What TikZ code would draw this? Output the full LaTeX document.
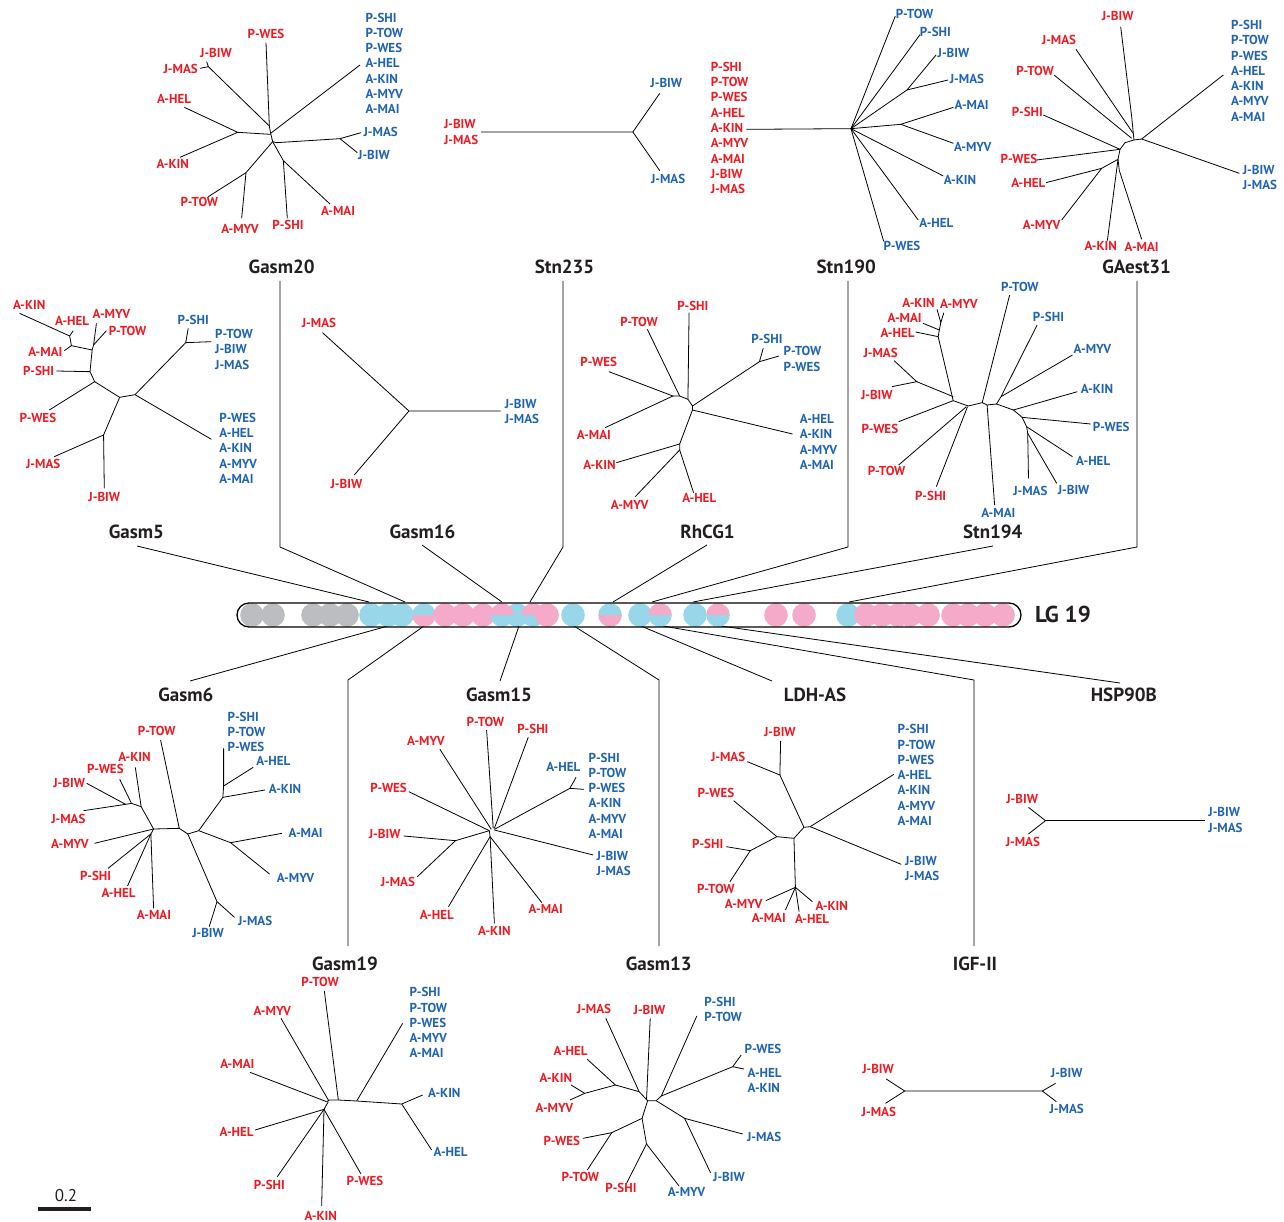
\documentclass[tikz,border=0pt]{standalone}
\usepackage{fontspec}
\setmainfont{PT Sans}
\definecolor{lred}{RGB}{237,28,36}
\definecolor{lblue}{RGB}{33,100,178}
\definecolor{tblack}{RGB}{35,31,32}
\definecolor{cpink}{RGB}{244,170,200}
\definecolor{ccyan}{RGB}{152,214,234}
\definecolor{cgray}{RGB}{188,189,192}
\newcommand\Cfull[2]{\fill[#2] (#1,615) circle (11.8pt);}
\newcommand\Chalf[3]{\fill[#2] (#1,615) ++(11.8pt,0) arc[start angle=0,end angle=180,radius=11.8pt] -- cycle; \fill[#3] (#1,615) ++(-11.8pt,0) arc[start angle=180,end angle=360,radius=11.8pt] -- cycle;}
\begin{document}
\begin{tikzpicture}[x=1pt,y=-1pt,
  lab/.style={font=\bfseries\fontsize{13}{15.3}\selectfont,inner sep=0pt,align=left},
  rl/.style={lab,text=lred},
  bl/.style={lab,text=lblue},
  ttl/.style={text=tblack,font=\bfseries\fontsize{19}{21}\selectfont,inner sep=0pt},
  br/.style={line width=0.8pt,black}]
\useasboundingbox (0,0) rectangle (1284,1222);

% ---------- Gasm20 ----------
\begin{scope}[shift={(140,0)},xscale=0.333333,yscale=0.333333]
\node[rl] (a1) at (378,102) {P-WES};
\node[rl] (a2) at (228,158) {J-BIW};
\node[rl] (a3) at (122,207) {J-MAS};
\node[rl] (a4) at (102,297) {A-HEL};
\node[rl] (a5) at (98,493) {A-KIN};
\node[rl] (a6) at (178,607) {P-TOW};
\node[rl] (a7) at (300,688) {A-MYV};
\node[rl] (a8) at (444,674) {P-SHI};
\node[rl] (a9) at (594,632) {A-MAI};
\node[bl,anchor=west] (a10) at (676,190) {P-SHI\\P-TOW\\P-WES\\A-HEL\\A-KIN\\A-MYV\\A-MAI};
\node[bl] (a11) at (722,396) {J-MAS};
\node[bl] (a12) at (702,466) {J-BIW};
\node[ttl] (tA) at (425,800) {Gasm20};
\draw[br] (378,128)--(388,378)--(392,400)--(398,425)--(410,428)--(600,416)--(663,398);
\draw[br] (600,416)--(652,458);
\draw[br] (200,185)--(205,200)--(180,205);
\draw[br] (205,200)--(388,378);
\draw[br] (660,195)--(392,400);
\draw[br] (133,322)--(293,397)--(120,472);
\draw[br] (293,397)--(392,403);
\draw[br] (398,425)--(318,518)--(205,590);
\draw[br] (318,518)--(305,655);
\draw[br] (398,425)--(430,482)--(442,655);
\draw[br] (430,482)--(570,612);
\end{scope}

% ---------- Stn235 & Stn190 ----------
\begin{scope}[shift={(430,0)},xscale=0.36352,yscale=0.333333]
\node[rl,anchor=west] (b1) at (38,396) {J-BIW\\J-MAS};
\node[bl] (b2) at (650,250) {J-BIW};
\node[bl] (b3) at (655,538) {J-MAS};
\node[ttl] (tB) at (370,800) {Stn235};
\draw[br] (140,396)--(558,396)--(632,280);
\draw[br] (558,396)--(632,512);
\node[rl,anchor=west] (c1) at (772,384) {P-SHI\\P-TOW\\P-WES\\A-HEL\\A-KIN\\A-MYV\\A-MAI\\J-BIW\\J-MAS};
\node[bl] (c2) at (1333,42) {P-TOW};
\node[bl] (c3) at (1390,97) {P-SHI};
\node[bl] (c4) at (1440,158) {J-BIW};
\node[bl] (c5) at (1477,238) {J-MAS};
\node[bl] (c6) at (1490,315) {A-MAI};
\node[bl] (c7) at (1493,442) {A-MYV};
\node[bl] (c8) at (1458,541) {A-KIN};
\node[bl] (c9) at (1393,669) {A-HEL};
\node[bl] (c10) at (1298,738) {P-WES};
\node[ttl] (tC) at (1145,800) {Stn190};
\draw[br] (870,388)--(1158,386)--(1280,48);
\draw[br] (1158,386)--(1348,104);
\draw[br] (1158,386)--(1312,270)--(1392,165);
\draw[br] (1312,270)--(1425,240);
\draw[br] (1158,386)--(1295,373)--(1440,322);
\draw[br] (1295,373)--(1440,430);
\draw[br] (1158,386)--(1412,528);
\draw[br] (1158,386)--(1343,660);
\draw[br] (1158,386)--(1248,724);
\end{scope}

% ---------- GAest31 ----------
\begin{scope}[shift={(990,0)},xscale=0.333333,yscale=0.333333]
\node[rl] (d1) at (383,47) {J-BIW};
\node[rl] (d2) at (207,120) {J-MAS};
\node[rl] (d3) at (135,212) {P-TOW};
\node[rl] (d4) at (112,335) {P-SHI};
\node[rl] (d5) at (87,477) {P-WES};
\node[rl] (d6) at (115,550) {A-HEL};
\node[rl] (d7) at (155,675) {A-MYV};
\node[rl] (d8) at (332,738) {A-KIN};
\node[rl] (d9) at (455,742) {A-MAI};
\node[bl,anchor=west] (d10) at (723,212) {P-SHI\\P-TOW\\P-WES\\A-HEL\\A-KIN\\A-MYV\\A-MAI};
\node[bl,anchor=west] (d11) at (758,533) {J-BIW\\J-MAS};
\node[ttl] (tD) at (440,800) {GAest31};
\draw[br] (432,420)--(455,417)--(700,225);
\draw[br] (455,417)--(748,520);
\draw[br] (392,80)--(425,350)--(432,420);
\draw[br] (258,148)--(428,398);
\draw[br] (192,225)--(425,415);
\draw[br] (432,420)--(405,428)--(390,448)--(384,478)--(388,512)--(455,718);
\draw[br] (160,345)--(390,448);
\draw[br] (140,480)--(390,448);
\draw[br] (384,478)--(335,505)--(168,548);
\draw[br] (335,505)--(215,660);
\draw[br] (384,478)--(352,722);
\end{scope}

% ---------- Gasm5 & Gasm16 ----------
\begin{scope}[shift={(0,280)},xscale=0.357143,yscale=0.333333]
\node[rl] (e1) at (82,75) {A-KIN};
\node[rl] (e2) at (202,124) {A-HEL};
\node[rl] (e3) at (312,103) {A-MYV};
\node[rl] (e4) at (357,152) {P-TOW};
\node[rl] (e5) at (127,215) {A-MAI};
\node[rl] (e6) at (108,272) {P-SHI};
\node[rl] (e7) at (106,413) {P-WES};
\node[rl] (e8) at (121,553) {J-MAS};
\node[rl] (e9) at (292,650) {J-BIW};
\node[bl] (e10) at (541,120) {P-SHI};
\node[bl,anchor=west] (e11) at (602,208) {P-TOW\\J-BIW\\J-MAS};
\node[bl,anchor=west] (e12) at (614,505) {P-WES\\A-HEL\\A-KIN\\A-MYV\\A-MAI};
\node[ttl] (tE) at (382,757) {Gasm5};
\draw[br] (55,100)--(195,168)--(205,152);
\draw[br] (195,168)--(200,197)--(180,212);
\draw[br] (200,197)--(258,210);
\draw[br] (270,130)--(262,195)--(298,152);
\draw[br] (262,195)--(258,210)--(252,275)--(158,273);
\draw[br] (252,275)--(265,305)--(138,390);
\draw[br] (265,305)--(335,352)--(378,344)--(520,188)--(527,145);
\draw[br] (520,188)--(592,185);
\draw[br] (378,344)--(592,478);
\draw[br] (335,352)--(290,465)--(152,530);
\draw[br] (290,465)--(292,625);
\node[rl] (f1) at (893,130) {J-MAS};
\node[rl] (f2) at (970,612) {J-BIW};
\node[bl,anchor=west] (f3) at (1413,395) {J-BIW\\J-MAS};
\node[ttl] (tF) at (1183,757) {Gasm16};
\draw[br] (903,158)--(1145,393)--(1402,393);
\draw[br] (1145,393)--(992,585);
\end{scope}

% ---------- RhCG1 & Stn194 ----------
\begin{scope}[shift={(560,270)},xscale=0.376279,yscale=0.333333]
\node[rl] (g1) at (353,108) {P-SHI};
\node[rl] (g2) at (210,155) {P-TOW};
\node[rl] (g3) at (103,277) {P-WES};
\node[rl] (g4) at (90,495) {A-MAI};
\node[rl] (g5) at (105,585) {A-KIN};
\node[rl] (g6) at (185,705) {A-MYV};
\node[rl] (g7) at (370,685) {A-HEL};
\node[bl] (g8) at (550,208) {P-SHI};
\node[bl,anchor=west] (g9) at (594,267) {P-TOW\\P-WES};
\node[bl,anchor=west] (g10) at (637,516) {A-HEL\\A-KIN\\A-MYV\\A-MAI};
\node[ttl] (tG) at (392,785) {RhCG1};
\draw[br] (343,128)--(340,388);
\draw[br] (232,178)--(318,378);
\draw[br] (130,305)--(300,378)--(120,473);
\draw[br] (300,378)--(318,378)--(340,388)--(352,408)--(352,420)--(318,522)--(150,578);
\draw[br] (352,408)--(530,275)--(540,235);
\draw[br] (530,275)--(582,258);
\draw[br] (352,420)--(618,492);
\draw[br] (318,522)--(318,540)--(200,680);
\draw[br] (318,540)--(355,668);
\node[rl] (h1) at (953,100) {A-KIN};
\node[rl] (h2) at (1060,102) {A-MYV};
\node[rl] (h3) at (916,143) {A-MAI};
\node[rl] (h4) at (897,190) {A-HEL};
\node[rl] (h5) at (852,250) {J-MAS};
\node[rl] (h6) at (842,375) {J-BIW};
\node[rl] (h7) at (850,477) {P-WES};
\node[rl] (h8) at (868,603) {P-TOW};
\node[rl] (h9) at (985,678) {P-SHI};
\node[bl] (h10) at (1222,50) {P-TOW};
\node[bl] (h11) at (1298,140) {P-SHI};
\node[bl] (h12) at (1415,238) {A-MYV};
\node[bl] (h13) at (1427,358) {A-KIN};
\node[bl] (h14) at (1465,472) {P-WES};
\node[bl] (h15) at (1417,572) {A-HEL};
\node[bl] (h16) at (1365,660) {J-BIW};
\node[bl] (h17) at (1250,662) {J-MAS};
\node[bl] (h18) at (1165,730) {A-MAI};
\node[ttl] (tH) at (1150,785) {Stn194};
\draw[br] (1002,118)--(1012,158)--(1020,128);
\draw[br] (1012,158)--(1008,180)--(965,160);
\draw[br] (1008,180)--(1005,200)--(945,186);
\draw[br] (1005,200)--(1045,392)--(900,455);
\draw[br] (888,272)--(948,335)--(882,350);
\draw[br] (948,335)--(1045,380);
\draw[br] (1045,392)--(1085,408)--(1122,398)--(1135,405)--(1160,402)--(1205,420)--(1228,442)--(1240,470)--(1243,490)--(1245,625);
\draw[br] (900,585)--(1080,410);
\draw[br] (1000,650)--(1083,410);
\draw[br] (1135,405)--(1155,705);
\draw[br] (1122,398)--(1195,75);
\draw[br] (1160,402)--(1172,380)--(1268,165);
\draw[br] (1172,380)--(1362,255);
\draw[br] (1205,420)--(1375,365);
\draw[br] (1228,442)--(1410,462);
\draw[br] (1240,470)--(1362,560);
\draw[br] (1243,490)--(1320,640);
\end{scope}

% ---------- Gasm6 & Gasm15 ----------
\begin{scope}[shift={(40,680)},xscale=0.389029,yscale=0.333333]
\node[rl] (i1) at (300,153) {P-TOW};
\node[rl] (i2) at (243,230) {A-KIN};
\node[rl] (i3) at (168,268) {P-WES};
\node[rl] (i4) at (75,308) {J-BIW};
\node[rl] (i5) at (73,416) {J-MAS};
\node[rl] (i6) at (77,492) {A-MYV};
\node[rl] (i7) at (143,587) {P-SHI};
\node[rl] (i8) at (202,640) {A-HEL};
\node[rl] (i9) at (293,705) {A-MAI};
\node[bl,anchor=west] (i10) at (482,156) {P-SHI\\P-TOW\\P-WES};
\node[bl] (i11) at (600,243) {A-HEL};
\node[bl] (i12) at (630,328) {A-KIN};
\node[bl] (i13) at (683,460) {A-MAI};
\node[bl] (i14) at (657,595) {A-MYV};
\node[bl] (i15) at (553,722) {J-MAS};
\node[bl] (i16) at (432,760) {J-BIW};
\node[ttl] (tI) at (375,45) {Gasm6};
\draw[br] (310,180)--(358,445)--(292,447)--(260,380)--(245,262);
\draw[br] (260,380)--(235,370)--(205,298);
\draw[br] (235,370)--(220,373)--(120,310);
\draw[br] (220,373)--(112,392);
\draw[br] (292,447)--(140,490);
\draw[br] (292,447)--(285,462)--(292,685);
\draw[br] (285,462)--(175,565);
\draw[br] (285,462)--(225,618);
\draw[br] (358,445)--(380,462)--(408,452)--(470,352)--(472,318)--(472,205);
\draw[br] (472,318)--(548,262);
\draw[br] (470,352)--(578,330);
\draw[br] (408,452)--(490,488)--(622,460);
\draw[br] (490,488)--(590,582);
\draw[br] (380,462)--(455,665)--(435,740);
\draw[br] (455,665)--(500,712);
\node[rl] (j1) at (1145,125) {P-TOW};
\node[rl] (j2) at (1267,148) {P-SHI};
\node[rl] (j3) at (992,183) {A-MYV};
\node[rl] (j4) at (896,325) {P-WES};
\node[rl] (j5) at (886,462) {J-BIW};
\node[rl] (j6) at (920,605) {J-MAS};
\node[rl] (j7) at (1020,705) {A-HEL};
\node[rl] (j8) at (1168,752) {A-KIN};
\node[rl] (j9) at (1300,688) {A-MAI};
\node[bl] (j10) at (1345,262) {A-HEL};
\node[bl,anchor=west] (j11) at (1410,347) {P-SHI\\P-TOW\\P-WES\\A-KIN\\A-MYV\\A-MAI};
\node[bl,anchor=west] (j12) at (1430,551) {J-BIW\\J-MAS};
\node[ttl] (tJ) at (1180,45) {Gasm15};
\draw[br] (1148,150)--(1165,445);
\draw[br] (1255,172)--(1168,445);
\draw[br] (1028,208)--(1160,448);
\draw[br] (948,335)--(1155,452);
\draw[br] (1168,448)--(1362,325)--(1378,292);
\draw[br] (1362,325)--(1398,328);
\draw[br] (1168,450)--(1422,525);
\draw[br] (1155,452)--(1068,482)--(935,468);
\draw[br] (1068,482)--(970,590);
\draw[br] (1155,452)--(1157,470)--(1050,680);
\draw[br] (1157,470)--(1168,730);
\draw[br] (1157,470)--(1290,668);
\end{scope}

% ---------- LDH-AS & HSP90B ----------
\begin{scope}[shift={(680,680)},xscale=0.369904,yscale=0.333333]
\node[rl] (k1) at (270,157) {J-BIW};
\node[rl] (k2) at (130,232) {J-MAS};
\node[rl] (k3) at (97,340) {P-WES};
\node[rl] (k4) at (75,492) {P-SHI};
\node[rl] (k5) at (97,627) {P-TOW};
\node[rl] (k6) at (172,672) {A-MYV};
\node[rl] (k7) at (240,713) {A-MAI};
\node[rl] (k8) at (357,717) {A-HEL};
\node[rl] (k9) at (410,677) {A-KIN};
\node[bl,anchor=west] (k10) at (588,285) {P-SHI\\P-TOW\\P-WES\\A-HEL\\A-KIN\\A-MYV\\A-MAI};
\node[bl,anchor=west] (k11) at (608,566) {J-BIW\\J-MAS};
\node[ttl] (tK) at (365,45) {LDH-AS};
\draw[br] (272,183)--(270,285)--(182,245);
\draw[br] (270,285)--(335,442)--(352,440)--(578,283);
\draw[br] (352,440)--(598,553);
\draw[br] (335,442)--(308,475)--(262,470)--(145,362);
\draw[br] (262,470)--(190,512)--(125,500);
\draw[br] (190,512)--(135,605);
\draw[br] (308,475)--(312,622)--(232,662);
\draw[br] (312,622)--(285,690);
\draw[br] (312,622)--(322,695);
\draw[br] (312,622)--(358,665);
\node[rl] (l1) at (925,357) {J-BIW};
\node[rl] (l2) at (927,485) {J-MAS};
\node[bl,anchor=west] (l3) at (1428,420) {J-BIW\\J-MAS};
\node[ttl] (tL) at (1200,45) {HSP90B};
\draw[br] (942,382)--(988,422)--(942,462);
\draw[br] (988,422)--(1418,422);
\end{scope}

% ---------- Gasm19 ----------
\begin{scope}[shift={(200,950)},xscale=0.333333,yscale=0.333333]
\node[rl] (m1) at (360,97) {P-TOW};
\node[rl] (m2) at (217,182) {A-MYV};
\node[rl] (m3) at (112,343) {A-MAI};
\node[rl] (m4) at (110,545) {A-HEL};
\node[rl] (m5) at (208,705) {P-SHI};
\node[rl] (m6) at (362,797) {A-KIN};
\node[rl] (m7) at (495,692) {P-WES};
\node[bl,anchor=west] (m8) at (628,218) {P-SHI\\P-TOW\\P-WES\\A-MYV\\A-MAI};
\node[bl] (m9) at (733,430) {A-KIN};
\node[bl] (m10) at (752,607) {A-HEL};
\node[ttl] (tM) at (435,42) {Gasm19};
\draw[br] (373,123)--(415,450);
\draw[br] (243,205)--(385,450);
\draw[br] (150,367)--(380,455);
\draw[br] (380,455)--(388,450)--(415,450)--(470,453)--(605,462)--(668,435);
\draw[br] (470,453)--(608,220);
\draw[br] (605,462)--(695,600);
\draw[br] (385,455)--(372,478)--(165,540);
\draw[br] (372,478)--(232,680);
\draw[br] (372,478)--(365,768);
\draw[br] (372,478)--(483,672);
\end{scope}

% ---------- Gasm13 & IGF-II ----------
\begin{scope}[shift={(520,950)},xscale=0.369904,yscale=0.333333]
\node[rl] (n1) at (200,177) {J-MAS};
\node[rl] (n2) at (350,180) {J-BIW};
\node[rl] (n3) at (137,303) {A-HEL};
\node[rl] (n4) at (97,383) {A-KIN};
\node[rl] (n5) at (93,475) {A-MYV};
\node[rl] (n6) at (113,572) {P-WES};
\node[rl] (n7) at (163,682) {P-TOW};
\node[rl] (n8) at (273,713) {P-SHI};
\node[bl,anchor=west] (n9) at (498,178) {P-SHI\\P-TOW};
\node[bl] (n10) at (657,298) {P-WES};
\node[bl,anchor=west] (n11) at (615,392) {A-HEL\\A-KIN};
\node[bl] (n12) at (660,560) {J-MAS};
\node[bl] (n13) at (565,682) {J-BIW};
\node[bl] (n14) at (450,727) {A-MYV};
\node[ttl] (tN) at (375,42) {Gasm13};
\draw[br] (232,205)--(322,425)--(345,452);
\draw[br] (352,205)--(342,450);
\draw[br] (182,328)--(258,405)--(175,430)--(138,405);
\draw[br] (175,430)--(135,450);
\draw[br] (258,405)--(322,425);
\draw[br] (345,452)--(368,452)--(382,438)--(478,198);
\draw[br] (382,438)--(575,350)--(598,315);
\draw[br] (575,350)--(605,357);
\draw[br] (368,452)--(445,505)--(602,552);
\draw[br] (445,505)--(515,668);
\draw[br] (345,452)--(330,505)--(248,548)--(170,565);
\draw[br] (248,548)--(182,660);
\draw[br] (330,505)--(342,582)--(288,700);
\draw[br] (342,582)--(430,708);
\node[rl] (o1) at (968,357) {J-BIW};
\node[rl] (o2) at (970,485) {J-MAS};
\node[bl] (o3) at (1478,368) {J-BIW};
\node[bl] (o4) at (1478,477) {J-MAS};
\node[ttl] (tO) at (1230,42) {IGF-II};
\draw[br] (990,387)--(1040,423)--(988,460);
\draw[br] (1040,423)--(1412,423)--(1448,400);
\draw[br] (1412,423)--(1450,455);
\end{scope}

% ---------- connectors to LG 19 ----------
\coordinate (pE) at (369,602);
\coordinate (pA) at (405,602);
\coordinate (pF) at (502,602);
\coordinate (pB) at (530,602);
\coordinate (pG) at (613,602);
\coordinate (pC) at (652,602);
\coordinate (pH) at (693,602);
\coordinate (pD) at (849,602);
\coordinate (qI) at (388,626);
\coordinate (qM) at (424,626);
\coordinate (qJ) at (519,626);
\coordinate (qN) at (574,626);
\coordinate (qK) at (641,626);
\coordinate (qO) at (663,626);
\coordinate (qL) at (721,626);
\draw[br] (137,546)--(pE);
\draw[br] (280,281)--(280,547)--(pA);
\draw[br] (422,545)--(pF);
\draw[br] (563,281)--(563,547)--(pB);
\draw[br] (707,545)--(pG);
\draw[br] (848,281)--(848,547)--(pC);
\draw[br] (993,546)--(pH);
\draw[br] (1137,281)--(1137,547)--(pD);
\draw[br] (qI)--(190,681);
\draw[br] (qM)--(348,680)--(348,946);
\draw[br] (qJ)--(500,681);
\draw[br] (qN)--(659,680)--(659,946);
\draw[br] (qK)--(772,681);
\draw[br] (qO)--(974,680)--(974,946);
\draw[br] (qL)--(1120,683);

% ---------- chromosome bar ----------
\Cfull{252}{cgray}\Cfull{273}{cgray}
\Cfull{313}{cgray}\Cfull{330}{cgray}\Cfull{347}{cgray}
\Cfull{371}{ccyan}\Cfull{388}{ccyan}\Cfull{402}{ccyan}
\Chalf{424}{ccyan}{cpink}
\Cfull{445}{cpink}\Cfull{463}{cpink}\Cfull{483}{cpink}
\Cfull{517}{ccyan}
\Chalf{502}{cpink}{ccyan}
\Chalf{533}{cpink}{ccyan}
\Cfull{547}{cpink}
\Cfull{573}{ccyan}
\Chalf{610}{ccyan}{cpink}
\Cfull{640}{ccyan}
\Chalf{660}{cpink}{ccyan}
\Cfull{695}{ccyan}
\Chalf{718}{cpink}{ccyan}
\Cfull{776}{cpink}\Cfull{804}{cpink}
\Cfull{848}{ccyan}
\Cfull{866}{cpink}\Cfull{882}{cpink}\Cfull{898}{cpink}\Cfull{910}{cpink}\Cfull{928}{cpink}
\Cfull{953}{cpink}\Cfull{968}{cpink}\Cfull{985}{cpink}\Cfull{1003}{cpink}
\draw[line width=1.3pt,rounded corners=12pt] (237,603) rectangle (1021,627);
\node[text=tblack,font=\bfseries\fontsize{23}{25}\selectfont,inner sep=0pt] (lg) at (1063,614) {LG 19};

% ---------- scale bar ----------
\node[text=tblack,font=\fontsize{17}{19}\selectfont,inner sep=0pt] (sc) at (66,1196) {0.2};
\coordinate (s1) at (38,1209);
\coordinate (s2) at (91,1209);
\draw[line width=4pt,tblack] (s1)--(s2);
\end{tikzpicture}
\end{document}
